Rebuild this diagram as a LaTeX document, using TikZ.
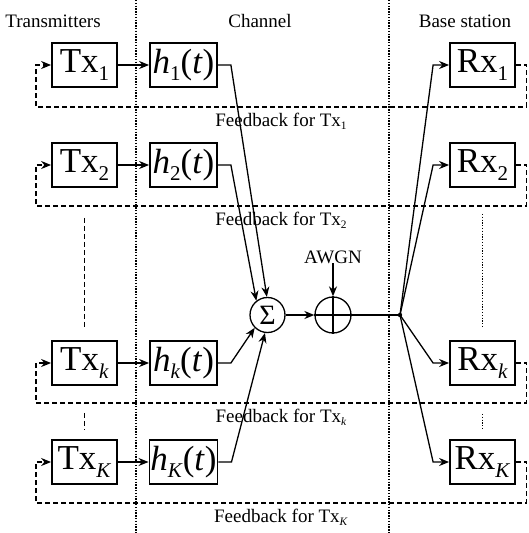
\documentclass[tikz,border=0pt]{standalone}
\usepackage{fontspec}
\setmainfont{Liberation Serif}
\usetikzlibrary{arrows.meta}
\newcommand{\lowsub}[1]{\raisebox{-0.45ex}{\scalebox{0.6}{#1}}}

\begin{document}
\begin{tikzpicture}[x=1pt, y=-1pt,
  blk/.style={draw, line width=1.8pt, minimum width=65pt, minimum height=44pt,
              inner sep=1pt, font=\fontsize{35}{36}\selectfont},
  op/.style={draw, circle, line width=1.3pt, minimum size=35pt, inner sep=0pt},
  lbl/.style={font=\fontsize{19}{22}\selectfont, anchor=base, inner sep=0pt},
  sig/.style={line width=1.3pt, -{Stealth[length=10pt, width=8pt]}},
  fb/.style={line width=1.3pt, dash pattern=on 5pt off 3pt},
  div/.style={line width=1.5pt, dash pattern=on 1.3pt off 1.5pt}]
  \useasboundingbox (0,0) rectangle (528,533);
  % column dividers and headers
  \draw[div] (136,0) -- (136,533);
  \draw[div] (389,0) -- (389,533);
  \node[lbl] (hdtx) at (53,27)  {Transmitters};
  \node[lbl] (hdch) at (260,27) {Channel};
  \node[lbl] (hdbs) at (465,27) {Base station};
  % transmitters
  \node[blk] (tx1) at (84.5,65)  {Tx\lowsub{1}};
  \node[blk] (tx2) at (84.5,165) {Tx\lowsub{2}};
  \node[blk] (txk) at (84.5,363) {Tx\lowsub{\textit{k}}};
  \node[blk] (txK) at (84.5,462) {Tx\lowsub{\textit{K}}};
  % channels
  \node[blk, minimum width=67pt] (h1) at (183.5,65)  {\textit{h}\lowsub{1}(\textit{t})};
  \node[blk, minimum width=67pt] (h2) at (183.5,165) {\textit{h}\lowsub{2}(\textit{t})};
  \node[blk, minimum width=67pt] (hk) at (183.5,363) {\textit{h}\lowsub{\textit{k}}(\textit{t})};
  \node[blk, minimum width=67pt] (hK) at (183.5,462) {\textit{h}\lowsub{\textit{K}}(\textit{t})};
  % receivers
  \node[blk] (rx1) at (482.5,65)  {Rx\lowsub{1}};
  \node[blk] (rx2) at (482.5,165) {Rx\lowsub{2}};
  \node[blk] (rxk) at (482.5,363) {Rx\lowsub{\textit{k}}};
  \node[blk] (rxK) at (482.5,462) {Rx\lowsub{\textit{K}}};
  % sum, noise, split
  \node[op, font=\fontsize{28}{28}\selectfont] (sum) at (267.5,315) {Σ};
  \node[op, minimum size=36pt] (plus) at (333,315) {};
  \draw[line width=1.3pt] (plus.north) -- (plus.south) (plus.west) -- (plus.east);
  \node[lbl] (awgn) at (333,263) {AWGN};
  \coordinate (jn) at (400,315);
  \fill (jn) circle (2.2pt);

  \draw[sig] (tx1) -- (h1);
  \draw[sig] (tx2) -- (h2);
  \draw[sig] (txk) -- (hk);
  \draw[sig] (txK) -- (hK);
  \draw[sig] (h1.east) -- ++(13,0) -- (sum.92);
  \draw[sig] (h2.east) -- ++(13,0) -- (sum.128);
  \draw[sig] (hk.east) -- ++(13,0) -- (sum.225);
  \draw[sig] (hK.east) -- ++(13,0) -- (sum.262);
  \draw[sig] (sum) -- (plus);
  \draw[sig] (awgn) -- (plus);
  \draw[line width=1.3pt] (plus.east) -- (jn);
  \draw[sig] (jn) -- ([xshift=-16pt]rx1.west) -- (rx1.west);
  \draw[sig] (jn) -- ([xshift=-16pt]rx2.west) -- (rx2.west);
  \draw[sig] (jn) -- ([xshift=-16pt]rxk.west) -- (rxk.west);
  \draw[sig] (jn) -- ([xshift=-16pt]rxK.west) -- (rxK.west);

  % feedback loops
  \draw[fb, -{Stealth[length=10pt, width=8pt]}] (rx1.east) -| (526.5,107) -| (36,65) -- (tx1.west);
  \draw[fb, -{Stealth[length=10pt, width=8pt]}] (rx2.east) -| (526.5,206) -| (36,165) -- (tx2.west);
  \draw[fb, -{Stealth[length=10pt, width=8pt]}] (rxk.east) -| (526.5,403) -| (36,363) -- (txk.west);
  \draw[fb, -{Stealth[length=10pt, width=8pt]}] (rxK.east) -| (526.5,503) -| (36,462) -- (txK.west);
  \node[lbl] (fb1) at (281,126) {Feedback for Tx\lowsub{1}};
  \node[lbl] (fb2) at (281,225) {Feedback for Tx\lowsub{2}};
  \node[lbl] (fbk) at (281,422) {Feedback for Tx\lowsub{\textit{k}}};
  \node[lbl] (fbK) at (281,522) {Feedback for Tx\lowsub{\textit{K}}};

  % omitted rows
  \draw[fb, shorten <=30pt, shorten >=11pt] (tx2) -- (txk);
  \draw[fb, shorten <=27pt, shorten >=10pt] (txk) -- (txK);
  \draw[div, shorten <=26pt, shorten >=14pt] (rx2) -- (rxk);
  \draw[div, shorten <=28pt, shorten >=11pt] (rxk) -- (rxK);
\end{tikzpicture}
\end{document}
